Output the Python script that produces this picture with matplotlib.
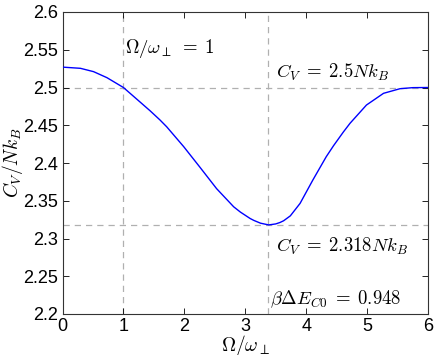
import matplotlib
matplotlib.use("Agg")
import matplotlib.pyplot as plt

plt.rcParams['font.family'] = ['Liberation Sans', 'DejaVu Sans']
plt.rcParams['mathtext.fontset'] = 'cm'

omega = [0.0, 0.295, 0.51, 0.73, 1.0, 1.27, 1.44, 1.60, 1.71, 1.99, 2.26, 2.53, 2.81,
         2.92, 3.08, 3.14, 3.25, 3.385, 3.50, 3.57, 3.63, 3.74, 3.90, 4.11, 4.33, 4.45,
         4.61, 4.72, 4.99, 5.27, 5.54, 5.75, 6.0]
cv = [2.527, 2.5254, 2.521, 2.513, 2.500, 2.481, 2.469, 2.457, 2.448, 2.4216, 2.394, 2.366, 2.342,
      2.3350, 2.3265, 2.3240, 2.3203, 2.318, 2.3193, 2.3212, 2.3235, 2.3300, 2.3465, 2.3775, 2.4084, 2.4230,
      2.4410, 2.4526, 2.4768, 2.4923, 2.4984, 2.4998, 2.5]

omega_ref = [1.0, 3.366]
cv_ref = [2.5, 2.318]

xticks = [0, 1, 2, 3, 4, 5, 6]
yticks = [2.2, 2.25, 2.3, 2.35, 2.4, 2.45, 2.5, 2.55, 2.6]
yticklabels = ['2.2', '2.25', '2.3', '2.35', '2.4', '2.45', '2.5', '2.55', '2.6']

fig = plt.figure(figsize=(4.36, 3.55), dpi=100)
ax = fig.add_axes([62.5/436, 1 - 314/355, (428-62.5)/436, (314-12)/355])

for xv in omega_ref:
    ax.axvline(xv, color='#b0b0b0', ls=(0, (5, 4)), lw=0.9, zorder=1)
for yv in cv_ref:
    ax.axhline(yv, color='#b0b0b0', ls=(0, (5, 4)), lw=0.9, zorder=1)

ax.plot(omega, cv, color='#0000ff', lw=1.0, zorder=3, solid_joinstyle='round')

ax.set_xlim(0, 6)
ax.set_ylim(2.2, 2.6)
ax.set_xticks(xticks)
ax.set_yticks(yticks)
ax.set_yticklabels(yticklabels)
ax.tick_params(direction='in', top=True, right=True, length=4, width=0.6,
               labelsize=13, pad=3)
for s in ax.spines.values():
    s.set_linewidth(0.8)
    s.set_color('#333333')

ax.set_xlabel(r'$\Omega/\omega_{\perp}$', fontsize=14, labelpad=-1.5)
ax.set_ylabel(r'$C_V/Nk_B$', fontsize=14)
ax.yaxis.set_label_coords(-0.103, 0.5)

ax.text(1.02, 2.552, r'$\Omega/\omega_{\perp}\;=\;1$', fontsize=13.5, va='center', ha='left')
ax.text(3.51, 2.5205, r'$C_V\;=\;2.5Nk_B$', fontsize=13.5, va='center', ha='left')
ax.text(3.51, 2.289, r'$C_V\;=\;2.318Nk_B$', fontsize=13.5, va='center', ha='left')
ax.text(3.41, 2.220, r'$\beta\Delta E_{C0}\;=\;0.948$', fontsize=13.5, va='center', ha='left')

fig.savefig('out.png', dpi=100)
